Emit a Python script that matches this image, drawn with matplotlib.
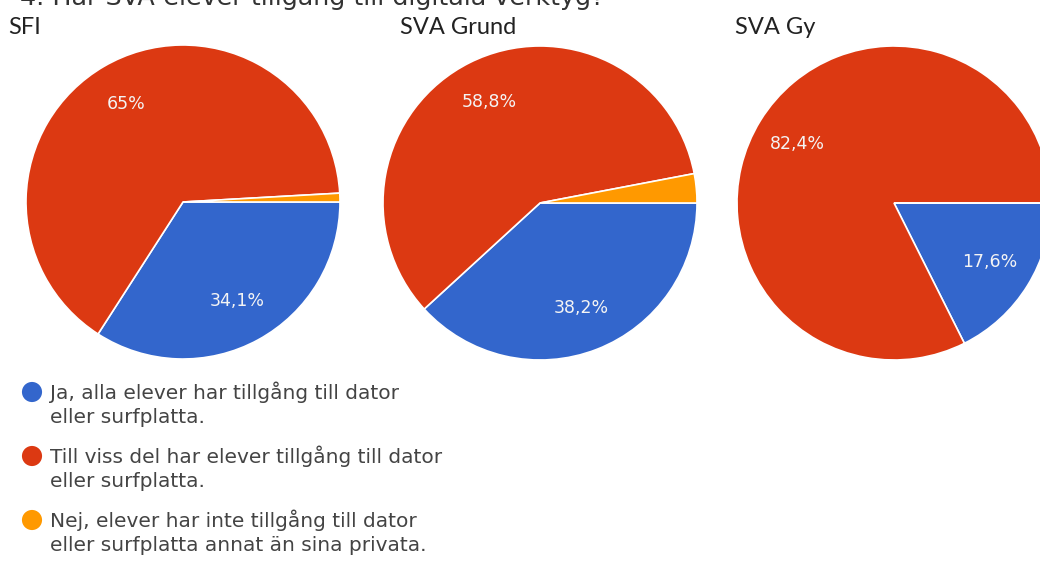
import matplotlib
matplotlib.use("Agg")
import matplotlib.pyplot as plt

# data
groups = ["SFI", "SVA Grund", "SVA Gy"]
categories = [
    "Ja, alla elever har tillgång till dator\neller surfplatta.",
    "Till viss del har elever tillgång till dator\neller surfplatta.",
    "Nej, elever har inte tillgång till dator\neller surfplatta annat än sina privata.",
]
sfi = [34.1, 65.0, 0.9]
sva_grund = [38.2, 58.8, 3.0]
sva_gy = [17.6, 82.4, 0.0]
values = [sfi, sva_grund, sva_gy]

colors = ["#3366cc", "#dc3912", "#ff9900"]
question = "4. Har SVA-elever tillgång till digitala verktyg?"

W, H = 1040, 563
fig = plt.figure(figsize=(W / 100, H / 100), dpi=100)
ax = fig.add_axes([0, 0, 1, 1])

# pie centres in pixels (y measured from top)
centres = [(183, 202), (540, 203), (894, 203)]
radius = 157
title_x = [8, 400, 735]


def pct_label(p):
    if p < 5:
        return ""
    s = f"{p:.1f}".replace(".", ",")
    if s.endswith(",0"):
        s = s[:-2]
    return s + "%"


for vals, (cx, cy), name, tx in zip(values, centres, groups, title_x):
    wedges, texts, autotexts = ax.pie(
        vals, colors=colors, startangle=0, counterclock=False,
        center=(cx, H - cy), radius=radius,
        autopct=pct_label, pctdistance=0.72,
        wedgeprops=dict(edgecolor="white", linewidth=1.2),
        textprops=dict(color="#f4f4f4", fontsize=12.5, family="DejaVu Sans"),
    )
    ax.text(tx, H - 34, name, fontsize=17, family="Lato", color="#222222",
            va="baseline", ha="left")

ax.set_xlim(0, W)
ax.set_ylim(0, H)
ax.set_aspect("equal")
ax.axis("off")

# question title, cut off at the top like in the screenshot
ax.text(20, H - 5, question, fontsize=18.3, family="DejaVu Sans",
        color="#333333", va="baseline", ha="left")

# legend (circle + two-line label)
leg_y = [392, 456, 520]
for label, color, ly in zip(categories, colors, leg_y):
    first, second = label.split("\n")
    ax.scatter([32], [H - ly], s=210, color=color, edgecolors="none")
    ax.text(50, H - ly - 7, first, fontsize=14.5,
            family="DejaVu Sans", color="#444444", va="baseline", ha="left")
    ax.text(50, H - ly - 31, second, fontsize=14.5,
            family="DejaVu Sans", color="#444444", va="baseline", ha="left")

fig.savefig("out.png", dpi=100)
